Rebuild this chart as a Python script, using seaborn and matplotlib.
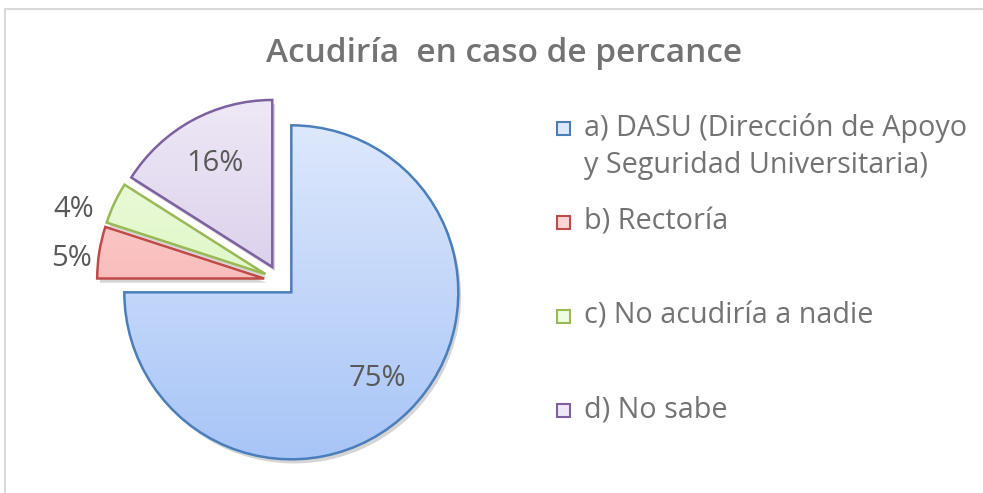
import numpy as np
import seaborn as sns
import matplotlib
matplotlib.use("Agg")
import matplotlib.pyplot as plt
import matplotlib.patches as mpatches
import matplotlib.patheffects as pe
from matplotlib.colors import LinearSegmentedColormap

sns.set_theme(style="white")
plt.rcParams['font.family'] = ['Open Sans', 'DejaVu Sans']

# datos
categorias = ["a) DASU (Dirección de Apoyo", "b) Rectoría", "c) No acudiría a nadie", "d) No sabe"]
segunda_linea = "y Seguridad Universitaria)"
valores = [75, 5, 4, 16]
etiquetas = ["75%", "5%", "4%", "16%"]

# colores estilo excel: (arriba, abajo, borde)
top_cols = ["#dde8fc", "#ffd6d5", "#eefce0", "#eee8f6"]
bot_cols = ["#a8c5f7", "#f3a5a3", "#d5f2b4", "#cbbbe2"]
edge_cols = ["#4a7ebb", "#be4b48", "#98b954", "#7d60a0"]

# posicion de etiquetas (fraccion del radio, giro en grados)
lab_dist = [0.73, 1.16, 1.21, 0.71]
lab_giro = [0, 3, 6.5, 0]

W, H = 983, 493
fig = plt.figure(figsize=(W / 100, H / 100), dpi=100)
ax = fig.add_axes([0, 0, 1, 1])

cx, cy, R = 280, H - 281, 167
wedges, texts = ax.pie(
    valores, startangle=90, counterclock=False, center=(cx, cy), radius=R,
    explode=[16] * 4, colors=bot_cols, labeldistance=None,
    wedgeprops=dict(linewidth=0, zorder=1))

for i, w in enumerate(wedges):
    w.set_path_effects([pe.SimplePatchShadow(offset=(2, -3), shadow_rgbFace="k", alpha=0.18),
                        pe.Normal()])
    # degradado vertical recortado a la porcion
    x0, y0 = w.center
    cmap = LinearSegmentedColormap.from_list("g%d" % i, [bot_cols[i], top_cols[i]])
    grad = np.linspace(0, 1, 256).reshape(-1, 1)
    im = ax.imshow(grad, cmap=cmap, origin="lower", aspect="auto",
                   extent=[x0 - R, x0 + R, y0 - R, y0 + R], zorder=2)
    im.set_clip_path(w)
    ax.add_patch(mpatches.Wedge(w.center, w.r, w.theta1, w.theta2, facecolor="none",
                                edgecolor=edge_cols[i], linewidth=1.8, zorder=3))
    # etiqueta de porcentaje
    ang = np.deg2rad((w.theta1 + w.theta2) / 2 + lab_giro[i])
    d = lab_dist[i] * R
    ax.text(x0 + d * np.cos(ang), y0 + d * np.sin(ang), etiquetas[i],
            ha="center", va="center", fontsize=21, color="#595959", zorder=4)

ax.set_xlim(0, W)
ax.set_ylim(0, H)
ax.set_aspect("equal")
ax.axis("off")

# titulo
fig.text(504 / W, 1 - 53 / H, "Acudiría  en caso de percance", ha="center", va="center",
         fontsize=24, fontweight="semibold", color="#737373")

# leyenda manual
ley_y = [128, 222, 316, 410]
for i, cat in enumerate(categorias):
    ax.add_patch(mpatches.Rectangle((557, H - ley_y[i] - 6.5), 13, 13, facecolor=top_cols[i],
                                    edgecolor=edge_cols[i], linewidth=1.5, zorder=5))
    ax.text(584, H - ley_y[i], cat, ha="left", va="center",
            fontsize=20.7, color="#737373", zorder=5)
ax.text(584, H - 166, segunda_linea, ha="left", va="center",
        fontsize=20.7, color="#737373", zorder=5)

# borde del area del grafico
fig.add_artist(plt.Line2D([5 / W, 1], [1 - 9 / H, 1 - 9 / H], color="#d9d9d9", lw=1.5))
fig.add_artist(plt.Line2D([5 / W, 5 / W], [0, 1 - 9 / H], color="#d9d9d9", lw=1.5))

fig.savefig("out.png", dpi=100, facecolor="white")
